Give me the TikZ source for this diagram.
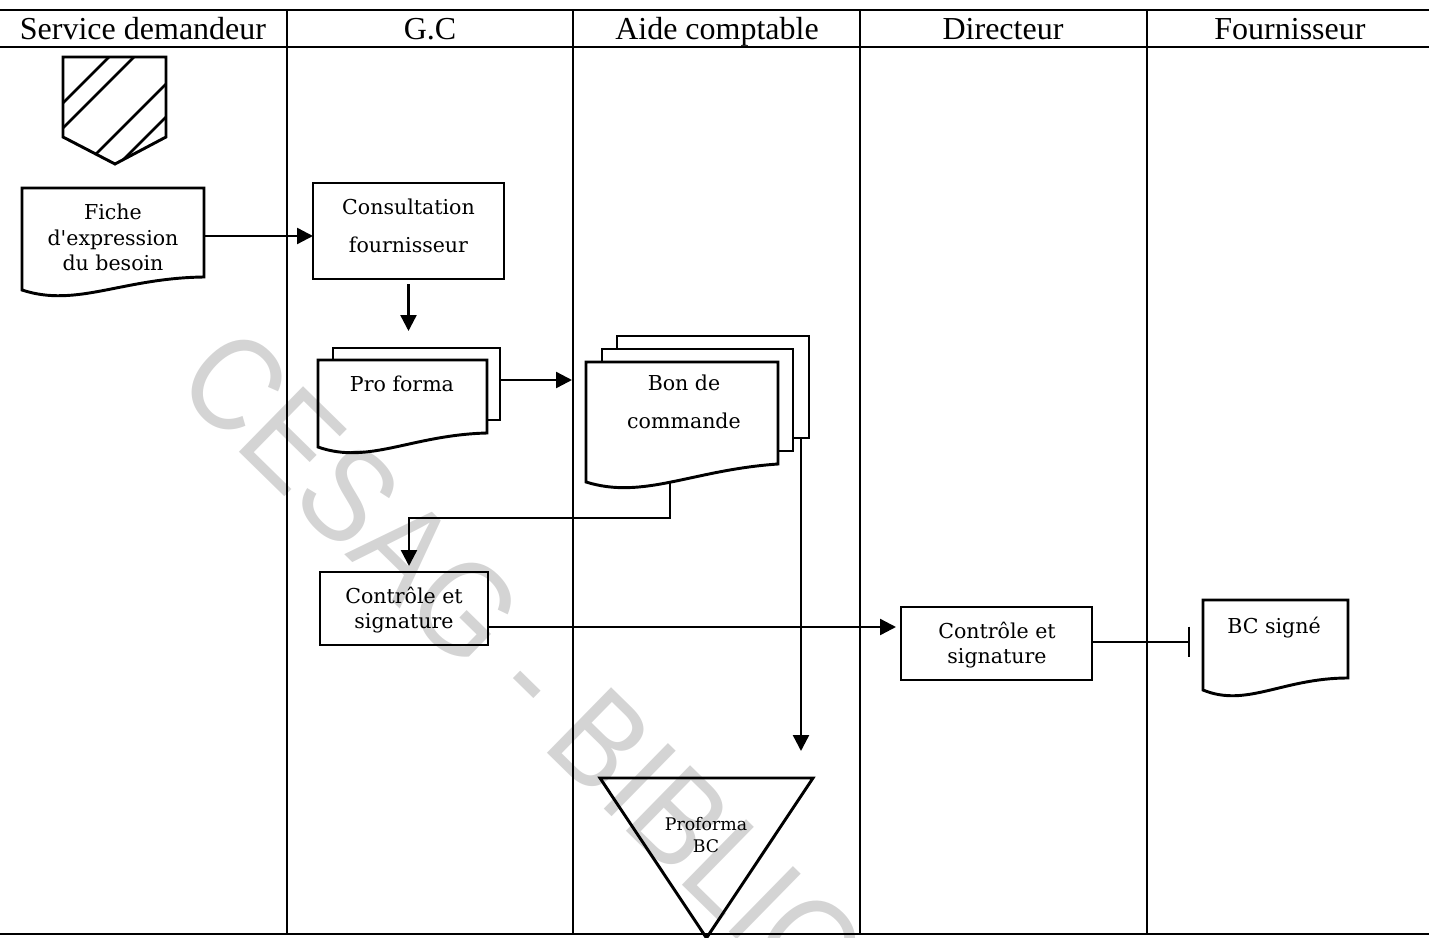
\documentclass[tikz,border=0pt]{standalone}
\usepackage{fontspec}
\setmainfont{Liberation Serif}
\newfontfamily\bodyfont{DejaVu Serif}
\newfontfamily\wmfont{Liberation Sans}
\usetikzlibrary{arrows.meta,fit,calc}

% centred lines whose baseline is the baseline of the first line
\newcommand\linesof[2]{\vtop{\baselineskip=#1\lineskiplimit=-20pt\halign{\hfil##\hfil\cr#2\crcr}}}

\tikzset{
  x=0.75pt, y=-0.75pt,
  lane/.style={line width=1.5pt},
  headrule/.style={line width=2.2pt},
  shapeline/.style={line width=2.2pt, line join=miter},
  frame/.style={inner sep=0pt, outer sep=0pt},
  box/.style={draw, line width=2.2pt, inner sep=0pt, outer sep=0pt},
  lanehead/.style={font=\fontsize{24pt}{28pt}\selectfont, anchor=base, inner sep=0pt},
  txt/.style={font=\bodyfont\fontsize{15.4pt}{19pt}\selectfont, anchor=base, inner sep=0pt},
  smalltxt/.style={font=\bodyfont\fontsize{13pt}{16pt}\selectfont, anchor=base, inner sep=0pt},
  arr/.style={line width=1.8pt, -{Triangle[length=12pt,width=12pt]}},
  stopper/.style={line width=1.8pt, -{Bar[width=23pt]}},
}

% document symbol with a wavy lower edge; #2 = drop of the lower left corner
\newcommand\docwave[2]{%
  \draw[shapeline] (#1.south east) -- (#1.north east) -- (#1.north west)
    -- ($(#1.south west)+(0,#2)$)
    .. controls ($(#1.south west)!0.3!(#1.south east)+(0,#2+18)$)
    and ($(#1.south west)!0.55!(#1.south east)+(0,#2-12)$) .. (#1.south east) -- cycle;
}

\begin{document}
\begin{tikzpicture}
\useasboundingbox (0,0) rectangle (1429,938);

% watermark
\begin{scope}
  \clip (0,0) rectangle (1429,938);
  \node[rotate=-44.4, anchor=base west, inner sep=0pt, text=black!17,
        font=\wmfont\fontsize{100pt}{100pt}\selectfont] (wm) at (172,386)
        {\scalebox{0.88}[1]{CESAG - BIBLIOTHEQUE}};
\end{scope}

% swimlane grid
\draw[lane] (0,10.5) -- (1429,10.5);
\draw[headrule] (0,47) -- (1429,47);
\draw[lane] (0,934) -- (1429,934);
\foreach \lx in {286.5,573,859.5,1146.5}
  \draw[lane] (\lx,10) -- (\lx,934);

\node[lanehead] (h1) at (143,39.5)  {Service demandeur};
\node[lanehead] (h2) at (430,39.5)  {G.C};
\node[lanehead] (h3) at (717,39.5)  {Aide comptable};
\node[lanehead] (h4) at (1003,39.5) {Directeur};
\node[lanehead] (h5) at (1290,39.5) {Fournisseur};

% off-page connector with hatching
\draw[shapeline] (63,57) -- (166,57) -- (166,137) -- (115,164) -- (63,137) -- cycle;
\begin{scope}
  \clip (63,57) -- (166,57) -- (166,137) -- (115,164) -- (63,137) -- cycle;
  \foreach \c in {166,191,250,283}
    \draw[line width=2pt] (\c-30,30) -- (\c-200,200);
\end{scope}

% Fiche d'expression du besoin
\node[frame, fit={(22,188) (204,277)}] (fiche) {};
\docwave{fiche}{13}
\node[txt] (fiche-t) at (113,220) {\linesof{19.1pt}{Fiche\cr d'expression\cr du besoin}};

% Consultation fournisseur
\node[box, fit={(313,183) (504,279)}] (cons) {};
\node[txt] (cons-t) at (408.5,214.5) {\linesof{28.5pt}{Consultation\cr fournisseur}};

% Pro forma (two sheets)
\node[frame, fit={(333,348) (500,420)}] (pro-back) {};
\draw[shapeline] (333,360) -- (333,348) -- (500,348) -- (500,420) -- (487,420);
\node[frame, fit={(318,360) (487,433)}] (pro) {};
\docwave{pro}{14}
\node[txt] (pro-t) at (402,391) {Pro forma};

% Bon de commande (three sheets)
\node[frame, fit={(617,336) (809,438)}] (bc-back) {};
\draw[shapeline] (617,349) -- (617,336) -- (809,336) -- (809,438) -- (793,438);
\draw[shapeline] (602,362) -- (602,349) -- (793,349) -- (793,451) -- (778,451);
\node[frame, fit={(586,362) (778,464)}] (bc) {};
\docwave{bc}{18}
\node[txt] (bc-t) at (684,390) {\linesof{28.5pt}{Bon de\cr commande}};

% Contrôle et signature (G.C)
\node[box, fit={(320,572) (488,645)}] (ctrl1) {};
\node[txt] (ctrl1-t) at (404,603.5) {\linesof{19.1pt}{Contrôle et\cr signature}};

% Contrôle et signature (Directeur)
\node[box, fit={(901,607) (1092,680)}] (ctrl2) {};
\node[txt] (ctrl2-t) at (997,638.5) {\linesof{19.1pt}{Contrôle et\cr signature}};

% BC signé
\node[frame, fit={(1203,600) (1348,678)}] (bcs) {};
\docwave{bcs}{12}
\node[txt] (bcs-t) at (1274,633) {BC signé};

% Proforma BC file
\draw[shapeline] (600,778) coordinate (tri-l) -- (813,778) coordinate (tri-r)
  -- (706.5,938) coordinate (tri-b) -- cycle;
\node[smalltxt] (tri-t) at (706,830) {\linesof{16.5pt}{Proforma\cr BC}};

% connectors
\coordinate (prointo) at (408.5,331);
\coordinate (bcinto) at (572,380);
\coordinate (bcout) at (670,483);
\coordinate (c1into) at (409,566);
\coordinate (c2into) at (896,627);
\coordinate (bcsinto) at (1190,642);
\coordinate (triinto) at (801,751);

\draw[arr] (fiche.east |- 0,236) -- (cons.west |- 0,236);
\draw[arr, shorten <=4pt] (cons.south) -- (prointo);
\draw[arr] (pro-back.east |- bcinto) -- (bcinto);
\draw[arr] (bcout) -- ++(0,35) -| (c1into);
\draw[arr] (ctrl1.east |- c2into) -- (c2into);
\draw[stopper] (ctrl2.east |- bcsinto) -- (bcsinto);
\draw[arr] (bc-back.south -| triinto) -- (triinto);
\end{tikzpicture}
\end{document}
